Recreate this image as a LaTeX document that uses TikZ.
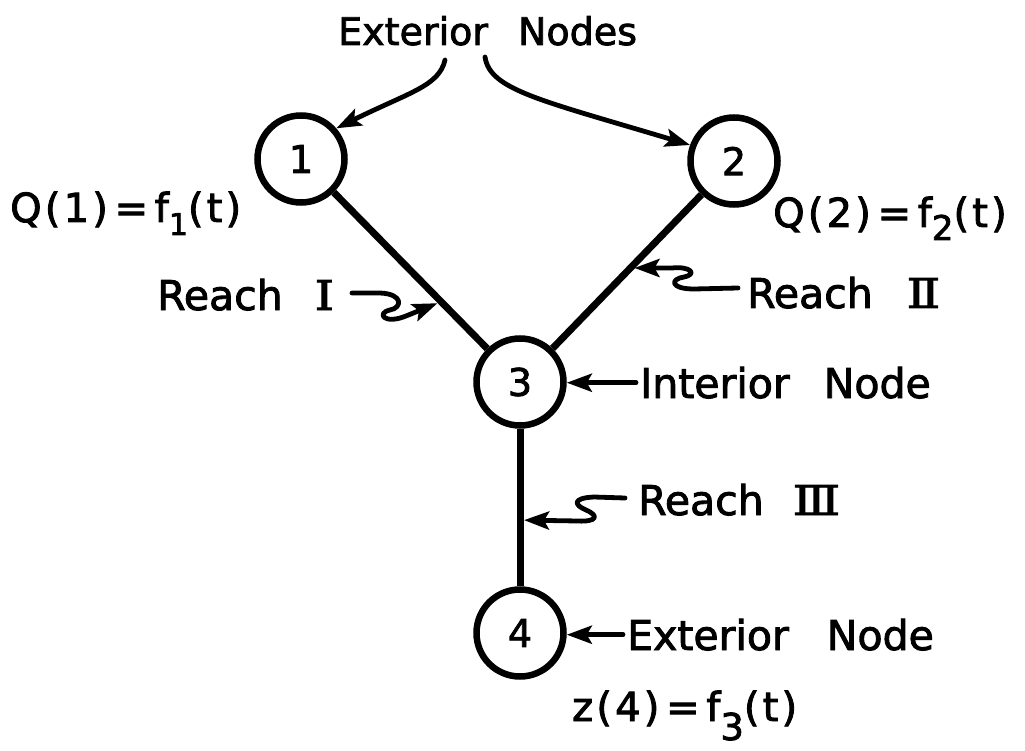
\documentclass[tikz,border=0pt]{standalone}
\usepackage{fontspec}
\setmainfont[FakeBold=2.2]{DejaVu Sans}
\newfontfamily\numeralfont[FakeBold=2.2]{DejaVu Serif}
\newfontfamily\eqfont[FakeBold=2.2,LetterSpace=8]{DejaVu Sans}
\usetikzlibrary{arrows.meta,calc}
% lowered, enlarged subscript used in the boundary conditions
\newcommand\lowsub[3]{\raisebox{#1}{\fontsize{#2}{#2}\selectfont #3}}
% slab roman numeral for the reach numbers
\newcommand\reachno[2]{\scalebox{#1}[1]{\numeralfont #2}}
\begin{document}
\begin{tikzpicture}[x=1pt,y=-1pt,
  junction/.style={circle, draw, line width=6.5pt, minimum size=87pt, inner sep=0pt,
                   font=\fontsize{38}{38}\selectfont},
  reachline/.style={line width=7pt},
  pointer/.style={line width=4.8pt, line cap=round, line join=round,
                  -{Stealth[length=25pt,width=18pt,inset=5pt]}},
  lbl/.style={inner sep=0pt, anchor=base west, font=\fontsize{41}{41}\selectfont},
  toplbl/.style={lbl, font=\fontsize{38}{38}\selectfont},
  eqlbl/.style={lbl, font=\eqfont\fontsize{40}{40}\selectfont}]
\useasboundingbox (0,0) rectangle (1025,751);

% network nodes
\node[junction] (n1) at (301,159) {1};
\node[junction] (n2) at (734,161) {2};
\node[junction] (n3) at (520,382) {3};
\node[junction] (n4) at (520,633) {4};

% reaches
\draw[reachline] (n1) -- (n3);
\draw[reachline] (n2) -- (n3);
\draw[reachline] (n3) -- (n4);

% labels
\node[toplbl] (ext) at (338,45) {Exterior\hspace{30pt}Nodes};
\node[lbl] (int) at (640,398) {Interior\hspace{34pt}Node};
\node[lbl] (extb) at (627,650) {Exterior\hspace{38pt}Node};
\node[lbl] (rI) at (157,310) {Reach\hspace{32pt}\reachno{1.2}{Ⅰ}};
\node[lbl] (rII) at (747,308) {Reach\hspace{34pt}\reachno{1.2}{Ⅱ}};
\node[lbl] (rIII) at (638,515) {Reach\hspace{29pt}\reachno{1.2}{Ⅲ}};

\node[eqlbl] (bc1) at (10,222) {Q(1)\,=\,f\lowsub{-13pt}{30}{1}(t)};
\node[eqlbl] (bc2) at (773,227) {Q(2)\,=\,f\lowsub{-13pt}{34}{2}(t)};
\node[eqlbl] (bc4) at (572,721) {z(4)\,=\,f\lowsub{-19pt}{37}{3}(t)};

% pointers from the heading to the exterior nodes
\coordinate (e1) at (445,60);
\coordinate (e2) at (485,57);
\draw[pointer] (e1) .. controls (439,86) and (410,92) .. (n1.41);
\draw[pointer] (e2) .. controls (490,90) and (540,100) .. (n2.160);

% straight pointers
\coordinate (si) at ($(int.west)+(-4,0)$);
\draw[pointer] (si) -- (si -| n3.east);
\coordinate (se) at ($(extb.west)+(-4,0)$);
\draw[pointer] (se) -- (se -| n4.east);

% wavy pointers to the reaches
\coordinate (t1) at ($(n1)!0.64!(n3)$);
\coordinate (t2) at ($(n2)!0.484!(n3)$);
\coordinate (t3) at ($(n3)!0.55!(n4)$);
\coordinate (s1) at (352,293);
\coordinate (s2) at (738,288);
\coordinate (s3) at (625,498);
\draw[pointer, shorten >=4pt] (s1) -- (380,293) .. controls (404,294) and (402,308) .. (390,310)
   .. controls (376,313) and (384,325) .. (406,316) -- (t1);
\draw[pointer, shorten >=4pt] (s2) -- (694,289) .. controls (670,289) and (670,279) .. (684,277)
   .. controls (698,274) and (690,266) .. (672,268) -- (t2);
\draw[pointer, shorten >=4pt] (s3) -- (594,497) .. controls (572,498) and (574,505) .. (586,510)
   .. controls (600,516) and (596,522) .. (578,521) -- (t3);
\end{tikzpicture}
\end{document}
